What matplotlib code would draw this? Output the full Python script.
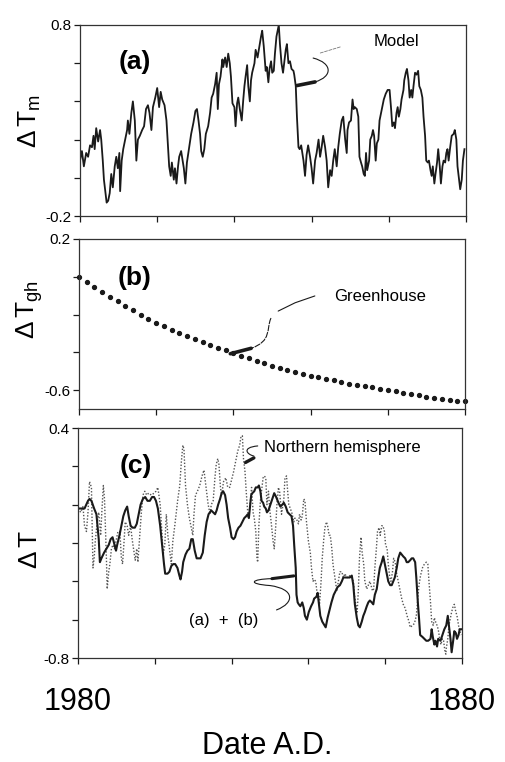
import numpy as np
import matplotlib
matplotlib.use("Agg")
import matplotlib.pyplot as plt
from matplotlib.path import Path
from matplotlib.patches import PathPatch

plt.rcParams['font.family'] = ['Liberation Sans', 'DejaVu Sans']
plt.rcParams['mathtext.fontset'] = 'custom'
plt.rcParams['mathtext.rm'] = 'Liberation Sans'
plt.rcParams['mathtext.it'] = 'Liberation Sans'

# (a) model temperature (year, deg C)
model_years = [
    1980.0, 1979.5, 1979.0, 1978.4, 1977.9, 1977.4, 1976.9, 1976.5, 1976.2, 1975.8,
    1975.3, 1974.8, 1974.5, 1974.1, 1973.8, 1973.4, 1973.1, 1972.7, 1972.3, 1971.9,
    1971.5, 1971.0, 1970.6, 1970.2, 1969.8, 1969.6, 1969.2, 1968.8, 1968.3, 1967.8,
    1967.6, 1967.2, 1966.7, 1966.3, 1965.8, 1965.4, 1965.0, 1964.5, 1963.9, 1963.4,
    1962.9, 1962.4, 1962.0, 1961.5, 1961.1, 1960.5, 1960.0, 1959.5, 1959.1, 1958.7,
    1958.1, 1957.6, 1957.2, 1956.9, 1956.5, 1956.2, 1955.7, 1955.4, 1955.0, 1954.6,
    1954.3, 1953.8, 1953.4, 1953.1, 1952.7, 1952.3, 1951.8, 1951.2, 1950.6, 1950.1,
    1949.7, 1949.3, 1948.9, 1948.6, 1948.2, 1947.8, 1947.4, 1946.8, 1946.3, 1945.9,
    1945.5, 1945.0, 1944.6, 1944.3, 1944.0, 1943.6, 1943.1, 1942.9, 1942.4, 1942.0,
    1941.6, 1941.2, 1940.9, 1940.5, 1940.0, 1939.7, 1939.3, 1939.0, 1938.6, 1938.1,
    1937.7, 1937.4, 1937.1, 1936.7, 1936.4, 1936.0, 1935.7, 1935.4, 1934.8, 1934.5,
    1934.0, 1933.5, 1933.1, 1932.8, 1932.4, 1931.9, 1931.6, 1931.2, 1930.9, 1930.5,
    1930.2, 1929.8, 1929.5, 1929.1, 1928.8, 1928.5, 1928.2, 1927.8, 1927.4, 1927.1,
    1926.7, 1926.4, 1926.0, 1925.6, 1925.2, 1924.7, 1924.5, 1924.1, 1923.8, 1923.4,
    1923.1, 1922.7, 1922.4, 1922.1, 1921.7, 1921.3, 1920.9, 1920.4, 1920.0, 1919.6,
    1919.1, 1918.7, 1918.2, 1917.8, 1917.4, 1917.0, 1916.5, 1916.1, 1915.7, 1915.2,
    1914.8, 1914.4, 1914.0, 1913.5, 1913.1, 1912.7, 1912.2, 1911.8, 1911.3, 1910.9,
    1910.7, 1910.3, 1909.8, 1909.4, 1909.1, 1908.8, 1908.3, 1907.9, 1907.6, 1907.2,
    1906.9, 1906.5, 1906.2, 1905.9, 1905.6, 1905.1, 1904.8, 1904.4, 1904.1, 1903.8,
    1903.4, 1903.1, 1902.7, 1902.4, 1901.8, 1901.3, 1900.8, 1900.3, 1899.8, 1899.4,
    1899.1, 1898.7, 1898.4, 1898.0, 1897.7, 1897.4, 1897.0, 1896.7, 1896.2, 1896.0,
    1895.6, 1895.3, 1894.9, 1894.6, 1894.2, 1893.9, 1893.6, 1893.2, 1892.8, 1892.4,
    1892.1, 1891.7, 1891.3, 1891.0, 1890.6, 1890.3, 1889.9, 1889.6, 1889.2, 1888.9,
    1888.6, 1888.2, 1887.9, 1887.5, 1887.2, 1886.8, 1886.5, 1886.1, 1885.8, 1885.4,
    1885.1, 1884.8, 1884.5, 1884.1, 1883.7, 1883.2, 1882.9, 1882.5, 1882.2, 1881.8,
    1881.5, 1881.1, 1880.8, 1880.4]
model_vals = [
    0.09, 0.14, 0.06, 0.13, 0.11, 0.17, 0.16, 0.22, 0.15, 0.26,
    0.19, 0.25, 0.20, 0.09, -0.01, -0.08, -0.13, -0.12, -0.08, 0.02,
    -0.05, 0.06, 0.11, 0.05, 0.13, -0.07, 0.09, 0.15, 0.20, 0.25,
    0.30, 0.23, 0.34, 0.40, 0.30, 0.09, 0.20, 0.22, 0.25, 0.27,
    0.36, 0.38, 0.34, 0.25, 0.37, 0.42, 0.47, 0.37, 0.45, 0.41,
    0.38, 0.30, 0.16, 0.06, 0.01, 0.08, -0.01, 0.05, -0.03, 0.06,
    0.11, 0.14, 0.09, 0.05, -0.03, 0.08, 0.15, 0.23, 0.29, 0.35,
    0.36, 0.30, 0.23, 0.14, 0.11, 0.15, 0.23, 0.27, 0.34, 0.42,
    0.44, 0.49, 0.55, 0.36, 0.49, 0.53, 0.62, 0.58, 0.63, 0.58,
    0.65, 0.60, 0.53, 0.39, 0.37, 0.27, 0.39, 0.42, 0.36, 0.30,
    0.41, 0.48, 0.53, 0.59, 0.48, 0.40, 0.51, 0.55, 0.60, 0.67,
    0.63, 0.69, 0.74, 0.77, 0.69, 0.56, 0.58, 0.50, 0.57, 0.61,
    0.55, 0.56, 0.65, 0.74, 0.77, 0.80, 0.70, 0.60, 0.55, 0.60,
    0.67, 0.70, 0.60, 0.61, 0.57, 0.56, 0.54, 0.48, 0.32, 0.16,
    0.15, 0.17, 0.13, 0.09, 0.01, 0.12, 0.17, 0.11, 0.05, -0.03,
    0.09, 0.13, 0.20, 0.11, 0.16, 0.22, 0.16, 0.09, -0.05, 0.04,
    0.01, 0.09, 0.15, 0.06, 0.16, 0.23, 0.30, 0.32, 0.20, 0.13,
    0.25, 0.29, 0.30, 0.41, 0.36, 0.37, 0.36, 0.32, 0.11, 0.08,
    0.06, 0.02, 0.01, 0.13, 0.04, 0.09, 0.20, 0.22, 0.25, 0.22,
    0.09, 0.18, 0.20, 0.30, 0.36, 0.41, 0.44, 0.46, 0.46, 0.36,
    0.27, 0.29, 0.26, 0.34, 0.37, 0.32, 0.36, 0.41, 0.46, 0.51,
    0.55, 0.57, 0.51, 0.42, 0.46, 0.42, 0.48, 0.55, 0.54, 0.56,
    0.48, 0.46, 0.42, 0.32, 0.22, 0.09, 0.08, 0.09, 0.04, 0.01,
    0.06, -0.03, 0.02, 0.08, 0.15, 0.06, -0.03, 0.06, 0.09, 0.08,
    0.13, 0.15, 0.09, 0.16, 0.22, 0.23, 0.25, 0.20, 0.06, -0.01,
    -0.06, -0.01, 0.09, 0.15]

# (b) greenhouse term, one dot every two years
gh_years = list(range(1980, 1879, -2))
gh_vals = [
    0.000, -0.027, -0.054, -0.080, -0.105, -0.130, -0.154, -0.177, -0.200, -0.222,
    -0.245, -0.263, -0.280, -0.297, -0.314, -0.330, -0.345, -0.360, -0.375, -0.390,
    -0.405, -0.418, -0.431, -0.444, -0.457, -0.470, -0.481, -0.492, -0.503, -0.514,
    -0.525, -0.533, -0.541, -0.549, -0.557, -0.565, -0.572, -0.579, -0.586, -0.593,
    -0.600, -0.607, -0.614, -0.621, -0.628, -0.635, -0.640, -0.645, -0.650, -0.655,
    -0.660]

# (c) sum (a) + (b)
combo_years = [
    1980.0, 1979.1, 1978.3, 1977.4, 1977.0, 1976.5, 1975.8, 1975.2, 1974.6, 1974.3,
    1973.9, 1973.2, 1972.6, 1972.0, 1971.5, 1971.0, 1970.5, 1970.1, 1969.8, 1969.2,
    1968.7, 1968.2, 1967.7, 1967.2, 1966.8, 1966.3, 1965.8, 1965.2, 1964.7, 1964.2,
    1963.7, 1963.1, 1962.5, 1961.9, 1961.3, 1960.7, 1960.2, 1959.7, 1959.2, 1958.6,
    1958.1, 1957.6, 1957.3, 1956.7, 1956.2, 1955.7, 1955.2, 1954.7, 1954.1, 1953.6,
    1953.3, 1952.9, 1952.6, 1952.0, 1951.5, 1951.0, 1950.5, 1950.1, 1949.6, 1949.1,
    1948.6, 1948.1, 1947.5, 1947.0, 1946.5, 1946.0, 1945.3, 1944.8, 1944.3, 1943.9,
    1943.5, 1943.0, 1942.6, 1942.2, 1941.7, 1941.3, 1940.9, 1940.4, 1940.0, 1939.5,
    1939.1, 1938.7, 1938.2, 1937.7, 1937.2, 1936.7, 1936.2, 1935.8, 1935.5, 1935.2,
    1934.9, 1934.6, 1934.1, 1933.7, 1933.2, 1932.9, 1932.5, 1932.2, 1931.8, 1931.5,
    1931.1, 1930.8, 1930.4, 1929.9, 1929.4, 1928.9, 1928.4, 1927.8, 1927.3, 1926.8,
    1926.4, 1925.9, 1925.4, 1924.9, 1924.4, 1924.0, 1923.7, 1923.3, 1923.1, 1922.8,
    1922.5, 1922.1, 1921.6, 1921.2, 1920.9, 1920.4, 1919.9, 1919.3, 1918.8, 1918.5,
    1917.9, 1917.6, 1917.3, 1916.9, 1916.4, 1915.8, 1915.5, 1915.0, 1914.5, 1914.0,
    1913.4, 1912.9, 1912.4, 1911.8, 1911.3, 1910.9, 1910.5, 1910.0, 1909.6, 1909.2,
    1908.7, 1908.3, 1907.9, 1907.4, 1907.0, 1906.6, 1906.1, 1905.7, 1905.3, 1904.8,
    1904.4, 1904.0, 1903.5, 1903.1, 1902.7, 1902.2, 1901.8, 1901.4, 1900.9, 1900.5,
    1900.1, 1899.6, 1899.2, 1898.7, 1898.3, 1897.9, 1897.5, 1897.0, 1896.6, 1896.1,
    1895.7, 1895.3, 1894.8, 1894.4, 1894.0, 1893.5, 1893.1, 1892.7, 1892.2, 1891.9,
    1891.5, 1891.2, 1890.9, 1890.3, 1889.8, 1889.3, 1888.8, 1888.2, 1887.9, 1887.6,
    1887.2, 1886.9, 1886.5, 1886.2, 1885.6, 1885.1, 1884.6, 1884.1, 1883.7, 1883.4,
    1883.0, 1882.7, 1882.3, 1882.0, 1881.6, 1881.3, 1880.9, 1880.6, 1880.2]
combo_vals = [
    -0.02, -0.02, -0.02, 0.02, 0.03, 0.02, -0.02, -0.05, -0.18, -0.30,
    -0.28, -0.25, -0.23, -0.21, -0.18, -0.17, -0.21, -0.24, -0.21, -0.16,
    -0.11, -0.06, -0.03, -0.01, -0.06, -0.11, -0.12, -0.12, -0.10, -0.05,
    0.00, 0.03, 0.04, 0.02, 0.02, 0.04, 0.04, 0.02, -0.02, -0.11,
    -0.21, -0.31, -0.36, -0.36, -0.35, -0.32, -0.31, -0.31, -0.33, -0.37,
    -0.39, -0.35, -0.30, -0.26, -0.24, -0.23, -0.18, -0.18, -0.24, -0.28,
    -0.28, -0.28, -0.25, -0.16, -0.09, -0.05, -0.03, -0.04, -0.05, -0.03,
    0.00, 0.03, 0.06, 0.07, 0.05, 0.00, -0.07, -0.12, -0.17, -0.18,
    -0.17, -0.14, -0.12, -0.11, -0.09, -0.07, -0.06, -0.05, -0.07, -0.01,
    0.05, 0.06, 0.07, 0.09, 0.09, 0.10, 0.07, 0.02, 0.01, -0.01,
    -0.02, -0.04, -0.03, 0.00, 0.03, 0.06, 0.04, 0.01, -0.01, 0.00,
    0.01, -0.01, -0.04, -0.05, -0.06, -0.11, -0.21, -0.33, -0.47, -0.51,
    -0.52, -0.53, -0.51, -0.54, -0.58, -0.60, -0.56, -0.53, -0.51, -0.49,
    -0.48, -0.46, -0.51, -0.58, -0.61, -0.63, -0.64, -0.59, -0.55, -0.51,
    -0.47, -0.45, -0.43, -0.42, -0.40, -0.38, -0.38, -0.38, -0.38, -0.38,
    -0.37, -0.42, -0.52, -0.59, -0.63, -0.64, -0.61, -0.58, -0.56, -0.53,
    -0.51, -0.50, -0.51, -0.52, -0.47, -0.44, -0.38, -0.33, -0.30, -0.27,
    -0.31, -0.36, -0.40, -0.42, -0.42, -0.40, -0.38, -0.33, -0.28, -0.25,
    -0.26, -0.27, -0.28, -0.30, -0.30, -0.29, -0.28, -0.28, -0.30, -0.38,
    -0.51, -0.59, -0.68, -0.69, -0.70, -0.71, -0.71, -0.70, -0.65, -0.69,
    -0.73, -0.71, -0.74, -0.70, -0.71, -0.68, -0.65, -0.63, -0.58, -0.63,
    -0.70, -0.77, -0.71, -0.66, -0.67, -0.70, -0.68, -0.65, -0.65]

# (c) Northern hemisphere record (dotted)
nh_years = [
    1980.0, 1979.3, 1978.7, 1978.3, 1977.8, 1977.4, 1977.0, 1976.5, 1976.1, 1975.8,
    1975.5, 1975.0, 1974.6, 1974.1, 1973.8, 1973.4, 1973.1, 1972.6, 1972.4, 1972.0,
    1971.7, 1971.3, 1970.9, 1970.5, 1970.0, 1969.6, 1969.1, 1968.7, 1968.4, 1968.0,
    1967.7, 1967.2, 1966.8, 1966.3, 1965.9, 1965.4, 1965.1, 1964.7, 1964.4, 1963.9,
    1963.5, 1963.1, 1962.6, 1962.1, 1961.6, 1960.9, 1960.2, 1959.7, 1959.2, 1958.6,
    1958.1, 1957.8, 1957.4, 1957.0, 1956.6, 1956.0, 1955.7, 1955.3, 1954.8, 1954.4,
    1954.0, 1953.5, 1953.1, 1952.7, 1952.4, 1952.0, 1951.5, 1951.0, 1950.5, 1950.1,
    1949.8, 1949.4, 1948.9, 1948.3, 1947.7, 1947.2, 1946.7, 1946.1, 1945.6, 1945.3,
    1944.8, 1944.3, 1944.0, 1943.6, 1943.3, 1942.9, 1942.6, 1942.1, 1941.5, 1941.0,
    1940.5, 1940.0, 1939.5, 1939.0, 1938.4, 1937.9, 1937.6, 1937.2, 1936.9, 1936.5,
    1936.2, 1935.8, 1935.5, 1935.1, 1934.8, 1934.4, 1934.1, 1933.7, 1933.4, 1933.2,
    1932.9, 1932.5, 1932.2, 1931.8, 1931.5, 1931.1, 1930.8, 1930.4, 1930.1, 1929.7,
    1929.2, 1928.9, 1928.5, 1928.2, 1927.8, 1927.5, 1927.0, 1926.4, 1926.1, 1925.7,
    1925.4, 1925.1, 1924.7, 1924.2, 1923.8, 1923.5, 1923.0, 1922.6, 1922.3, 1921.9,
    1921.6, 1921.2, 1920.9, 1920.5, 1920.0, 1919.5, 1919.2, 1918.8, 1918.5, 1918.1,
    1917.8, 1917.4, 1917.1, 1916.7, 1916.4, 1916.0, 1915.7, 1915.3, 1915.0, 1914.6,
    1914.3, 1913.9, 1913.6, 1913.1, 1912.6, 1912.2, 1911.8, 1911.3, 1910.9, 1910.5,
    1910.0, 1909.6, 1909.2, 1908.7, 1908.3, 1907.9, 1907.3, 1907.0, 1906.7, 1906.3,
    1906.0, 1905.6, 1905.3, 1904.8, 1904.4, 1904.0, 1903.7, 1903.3, 1903.0, 1902.7,
    1902.3, 1902.0, 1901.6, 1901.3, 1900.9, 1900.6, 1900.2, 1899.9, 1899.5, 1899.2,
    1898.8, 1898.5, 1898.1, 1897.8, 1897.4, 1897.1, 1896.6, 1896.1, 1895.7, 1895.3,
    1894.8, 1894.3, 1893.8, 1893.5, 1892.9, 1892.4, 1891.9, 1891.5, 1891.2, 1890.8,
    1890.3, 1889.8, 1889.3, 1888.9, 1888.6, 1888.2, 1887.9, 1887.5, 1887.2, 1886.9,
    1886.5, 1886.2, 1885.8, 1885.5, 1885.1, 1884.8, 1884.4, 1884.2, 1884.1, 1883.7,
    1883.4, 1883.0, 1882.7, 1882.3, 1882.0, 1881.6, 1881.3, 1880.9, 1880.6, 1880.2]
nh_vals = [
    -0.02, -0.04, -0.01, -0.11, -0.14, -0.04, 0.12, 0.09, -0.33, -0.28,
    -0.19, -0.09, -0.04, -0.16, -0.04, 0.10, 0.03, -0.28, -0.44, -0.35,
    -0.31, -0.23, -0.21, -0.23, -0.18, -0.14, -0.14, -0.28, -0.31, -0.19,
    -0.09, -0.11, -0.16, -0.11, -0.18, -0.25, -0.29, -0.23, -0.30, -0.16,
    -0.04, 0.05, 0.07, 0.05, 0.06, 0.05, 0.06, 0.07, 0.09, 0.00,
    -0.16, -0.26, -0.21, -0.05, -0.16, -0.26, -0.31, -0.19, -0.11, -0.04,
    0.03, 0.10, 0.22, 0.31, 0.29, 0.10, 0.00, -0.07, -0.12, -0.16,
    -0.05, 0.05, 0.07, 0.10, 0.15, 0.18, 0.10, 0.00, -0.05, 0.00,
    0.02, 0.15, 0.21, 0.24, 0.21, 0.09, 0.05, 0.12, 0.14, 0.09,
    0.09, 0.13, 0.17, 0.22, 0.28, 0.31, 0.35, 0.36, 0.24, 0.17,
    0.07, -0.04, -0.05, 0.02, 0.09, -0.04, -0.07, -0.14, -0.28, -0.30,
    -0.11, 0.02, 0.07, 0.14, 0.15, 0.14, 0.00, 0.07, -0.02, -0.09,
    -0.19, -0.23, -0.11, 0.00, 0.09, 0.07, -0.05, 0.03, 0.14, 0.15,
    0.07, 0.00, -0.02, -0.05, -0.09, -0.07, -0.08, -0.10, -0.05, -0.08,
    -0.06, 0.03, 0.02, -0.09, -0.19, -0.25, -0.33, -0.40, -0.39, -0.40,
    -0.45, -0.47, -0.52, -0.40, -0.28, -0.18, -0.12, -0.09, -0.11, -0.16,
    -0.16, -0.23, -0.31, -0.38, -0.45, -0.40, -0.35, -0.35, -0.38, -0.36,
    -0.38, -0.38, -0.37, -0.38, -0.40, -0.49, -0.56, -0.45, -0.28, -0.17,
    -0.25, -0.31, -0.40, -0.44, -0.42, -0.40, -0.42, -0.45, -0.44, -0.33,
    -0.23, -0.14, -0.12, -0.16, -0.11, -0.11, -0.14, -0.21, -0.23, -0.31,
    -0.38, -0.40, -0.35, -0.28, -0.30, -0.35, -0.40, -0.45, -0.49, -0.52,
    -0.54, -0.58, -0.61, -0.64, -0.63, -0.62, -0.58, -0.49, -0.42, -0.37,
    -0.33, -0.31, -0.30, -0.31, -0.40, -0.51, -0.61, -0.63, -0.59, -0.61,
    -0.63, -0.65, -0.70, -0.73, -0.70, -0.71, -0.77, -0.78, -0.75, -0.70,
    -0.63, -0.59, -0.56, -0.53, -0.52, -0.56, -0.58, -0.63, -0.66, -0.68]

year_ticks = [1980, 1960, 1940, 1920, 1900, 1880]
ink = '#1a1a1a'

fig = plt.figure(figsize=(5.06, 7.62), dpi=100)
ax_a = fig.add_axes([80 / 506, 1 - 216 / 762, 386 / 506, 191 / 762])
ax_b = fig.add_axes([79 / 506, 1 - 409 / 762, 386 / 506, 170 / 762])
ax_c = fig.add_axes([78 / 506, 1 - 658 / 762, 384 / 506, 230 / 762])


def style_axis(ax, ylim, yticks, ylabels):
    ax.set_xlim(1980, 1880)
    ax.set_ylim(*ylim)
    ax.set_xticks(year_ticks)
    ax.set_xticklabels([])
    ax.set_yticks(yticks)
    ax.set_yticklabels(ylabels, fontsize=11)
    ax.tick_params(direction='out', length=4, width=0.9, color=ink, pad=2)
    for sp in ax.spines.values():
        sp.set_linewidth(0.9)
        sp.set_color('#333333')


def leader(ax, verts, codes, lw=0.8, ls='-', color=ink):
    patch = PathPatch(Path(verts, codes), fill=False, lw=lw, ls=ls, color=color,
                      transform=ax.transAxes, clip_on=False, capstyle='round')
    ax.add_patch(patch)


M, L, C = Path.MOVETO, Path.LINETO, Path.CURVE4

# ---- (a) model
ax_a.plot(model_years, model_vals, color=ink, lw=1.3)
style_axis(ax_a, (-0.2, 0.8), [-0.2, 0.0, 0.2, 0.4, 0.6, 0.8],
           ['-0.2', '', '', '', '', '0.8'])
ax_a.text(0.142, 0.805, '(a)', transform=ax_a.transAxes, fontsize=19,
          fontweight='bold', ha='center', va='center')
ax_a.text(0.82, 0.912, 'Model', transform=ax_a.transAxes, fontsize=12,
          ha='center', va='center')
leader(ax_a, [(0.674, 0.885), (0.622, 0.853)], [M, L], lw=0.6, ls='--', color='#777777')
leader(ax_a, [(0.604, 0.827), (0.655, 0.80), (0.655, 0.73), (0.609, 0.702)], [M, C, C, C])
leader(ax_a, [(0.609, 0.702), (0.562, 0.683)], [M, L], lw=2.6)

# ---- (b) greenhouse
ax_b.plot(gh_years, gh_vals, ls='none', marker='o', ms=2.8, color=ink, clip_on=False)
style_axis(ax_b, (-0.7, 0.2), [-0.6, -0.4, -0.2, 0.0, 0.2],
           ['-0.6', '', '', '', '0.2'])
ax_b.text(0.145, 0.77, '(b)', transform=ax_b.transAxes, fontsize=19,
          fontweight='bold', ha='center', va='center')
ax_b.text(0.78, 0.662, 'Greenhouse', transform=ax_b.transAxes, fontsize=12,
          ha='center', va='center')
leader(ax_b, [(0.611, 0.665), (0.560, 0.625), (0.516, 0.576)], [M, L, L])
leader(ax_b, [(0.497, 0.533), (0.485, 0.47), (0.50, 0.40), (0.446, 0.357)], [M, C, C, C],
       ls=(0, (5, 1.5)))
leader(ax_b, [(0.446, 0.357), (0.392, 0.325)], [M, L], lw=2.6)

# ---- (c) (a)+(b) vs Northern hemisphere
ax_c.plot(nh_years, nh_vals, color='#555555', lw=1.0, ls=(0, (1, 1.3)))
ax_c.plot(combo_years, combo_vals, color=ink, lw=1.5)
style_axis(ax_c, (-0.8, 0.4), [-0.8, -0.6, -0.4, -0.2, 0.0, 0.2, 0.4],
           ['-0.8', '', '', '', '', '', '0.4'])
ax_c.set_xticklabels(['1980', '', '', '', '', '1880'], fontsize=22)
ax_c.tick_params(axis='x', pad=17)
ax_c.text(0.151, 0.835, '(c)', transform=ax_c.transAxes, fontsize=19,
          fontweight='bold', ha='center', va='center')
ax_c.text(0.484, 0.917, 'Northern hemisphere', transform=ax_c.transAxes, fontsize=12,
          ha='left', va='center')
leader(ax_c, [(0.468, 0.922), (0.425, 0.915), (0.44, 0.885), (0.458, 0.878)], [M, C, C, C])
leader(ax_c, [(0.458, 0.870), (0.436, 0.850)], [M, L], lw=2.4)
ax_c.text(0.380, 0.165, '(a)  +  (b)', transform=ax_c.transAxes, fontsize=12,
          ha='center', va='center')
leader(ax_c, [(0.517, 0.209), (0.565, 0.24), (0.565, 0.30), (0.50, 0.315),
              (0.44, 0.322), (0.45, 0.343), (0.505, 0.345)], [M, C, C, C, C, C, C])
leader(ax_c, [(0.505, 0.345), (0.562, 0.357)], [M, L], lw=2.2)

# y labels
fig.text(30 / 506, 1 - 121 / 762, r'$\Delta\,\mathrm{T_m}$', fontsize=19,
         rotation=90, ha='center', va='center')
fig.text(30 / 506, 1 - 310 / 762, r'$\Delta\,\mathrm{T_{gh}}$', fontsize=19,
         rotation=90, ha='center', va='center')
fig.text(30 / 506, 1 - 550 / 762, r'$\Delta\,\mathrm{T}$', fontsize=19,
         rotation=90, ha='center', va='center')

fig.text(267 / 506, 0.5 / 762, 'Date A.D.', fontsize=22, ha='center', va='bottom')

fig.savefig('out.png', dpi=100)
